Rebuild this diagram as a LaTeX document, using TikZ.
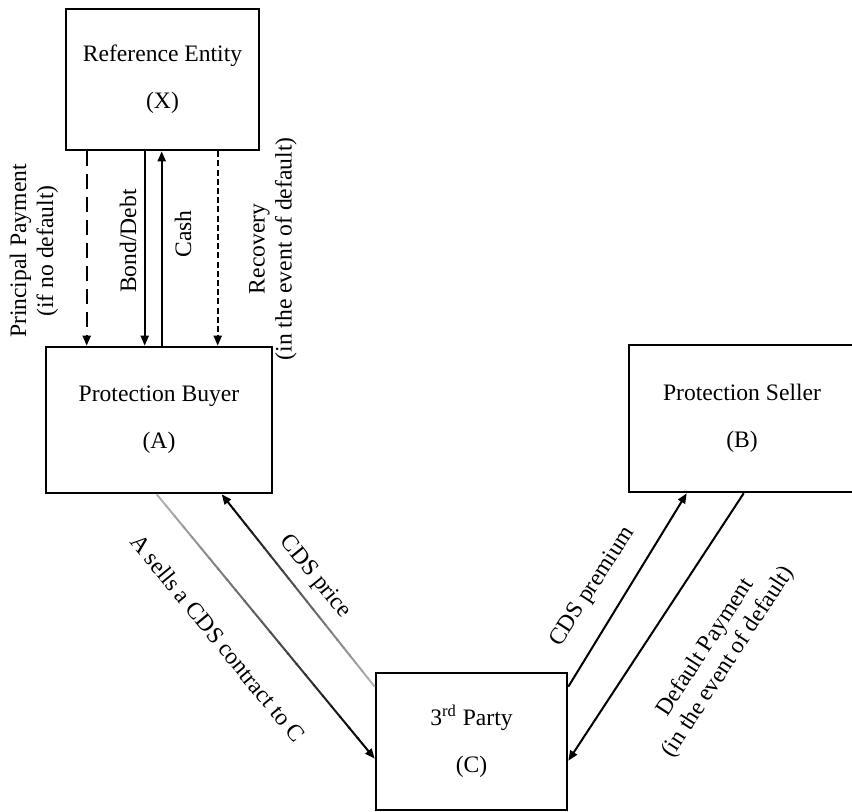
\documentclass[tikz,border=0pt]{standalone}
\usepackage{fontspec}
\setmainfont{Liberation Serif}
\usetikzlibrary{arrows.meta,calc}
\newcommand\gradflow[2]{%
  \foreach \i in {0,...,22}{%
    \pgfmathsetmacro\gs{\i*0.04}%
    \pgfmathsetmacro\ge{(\i+1)*0.04+0.005}%
    \pgfmathtruncatemacro\gc{30+70*\i/23}%
    \draw[line width=1pt,black!\gc] ($(#1)!\gs!(#2)$) -- ($(#1)!\ge!(#2)$);
  }%
  \draw[flow] ($(#1)!0.92!(#2)$) -- (#2);
}
\begin{document}
\begin{tikzpicture}[x=0.5pt,y=-0.5pt,
  box/.style={draw,line width=1.3pt,inner sep=0pt,align=center,font=\fontsize{11.8}{14}\selectfont},
  lbl/.style={align=center,inner sep=0pt,font=\fontsize{11.8}{13.5}\selectfont},
  flow/.style={line width=1pt,-{Triangle[length=5pt,width=4pt]}},
  longdash/.style={dash pattern=on 7.5pt off 4pt},
  shortdash/.style={dash pattern=on 3pt off 1.6pt}]
\useasboundingbox (0,0) rectangle (852,812);
\clip (0,0) rectangle (852,812);

% boxes
\node[box,minimum width=96.5pt,minimum height=70.5pt] (X) at (162.5,79.5) {Reference Entity\\[9.5pt](X)};
\node[box,minimum width=113pt,minimum height=73pt] (A) at (159,420) {Protection Buyer\\[9.5pt](A)};
\node[box,minimum width=113pt,minimum height=73.5pt] (B) at (742,418.5) {Protection Seller\\[9.5pt](B)};
\node[box,minimum width=95.5pt,minimum height=68.5pt] (C) at (471.5,741.5) {3\textsuperscript{rd} Party\\[9.5pt](C)};

% vertical flows X <-> A
\draw[flow,longdash] ([xshift=11pt]X.south west) -- ([xshift=21pt]A.north west);
\draw[flow] ([xshift=40pt]X.south west) -- ([xshift=50pt]A.north west);
\draw[flow] ([xshift=58.5pt]A.north west) -- ([xshift=48.5pt]X.south west);
\draw[flow,shortdash] ([xshift=76.5pt]X.south west) -- ([xshift=86.5pt]A.north west);

\node[lbl,rotate=90] (lp) at (34,251) {Principal Payment\\(if no default)};
\node[lbl,rotate=90] (lb) at (128,241) {Bond/Debt};
\node[lbl,rotate=90] (lc) at (183,234) {Cash};
\node[lbl,rotate=90] (lr) at (273,249) {Recovery\\(in the event of default)};

% diagonal flows A <-> C
\coordinate (aS1) at ([xshift=56pt]A.south west);
\coordinate (cL1) at ([yshift=-43.5pt]C.north west);
\coordinate (cL2) at ([yshift=-7.5pt]C.north west);
\coordinate (aS2) at ([xshift=88.5pt]A.south west);
\gradflow{aS1}{cL1}
\gradflow{cL2}{aS2}

\node[lbl,rotate=-50.7] (ls) at (218,638) {A sells a CDS contract to C};
\node[lbl,rotate=-51] (lpr) at (315,577) {CDS price};

% diagonal flows C <-> B
\draw[flow] ([yshift=-7.5pt]C.north east) -- ([xshift=29.5pt]B.south west);
\draw[flow] ([xshift=58pt]B.south west) -- ([yshift=-44.5pt]C.north east);

\node[lbl,rotate=57] (lpm) at (593,587) {CDS premium};
\node[lbl,rotate=57] (ld) at (717,655) {Default Payment\\(in the event of default)};
\end{tikzpicture}
\end{document}
